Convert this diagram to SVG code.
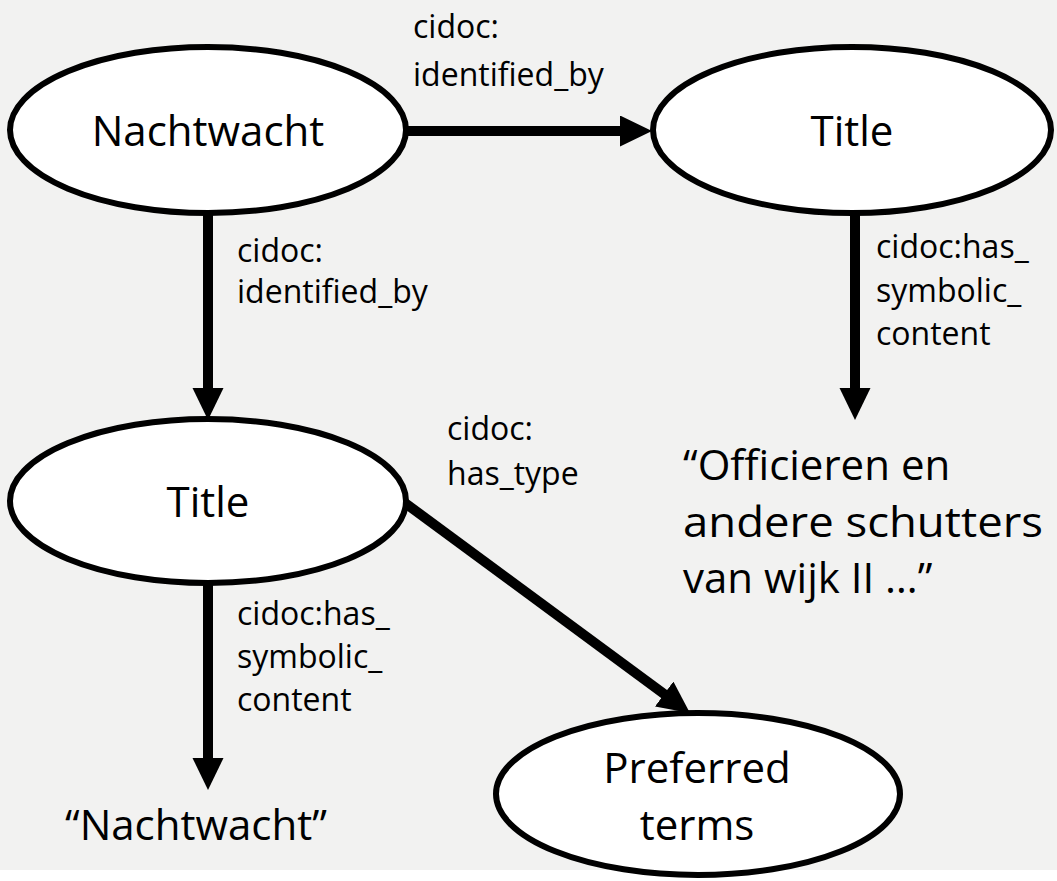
<svg xmlns="http://www.w3.org/2000/svg" width="1057" height="881" viewBox="0 0 1057 881">
<style>
.node{fill:#ffffff;stroke:#000000;stroke-width:6}
.edge{stroke:#000000;stroke-width:10;fill:none;marker-end:url(#arrow)}
.big{font-family:"Open Sans","Noto Sans","DejaVu Sans",sans-serif;font-size:42px;fill:#000000}
.lbl{font-family:"Open Sans","Noto Sans","DejaVu Sans",sans-serif;font-size:32px;fill:#000000}
.mid{text-anchor:middle}
</style>
<defs>
<marker id="arrow" markerUnits="userSpaceOnUse" markerWidth="34" markerHeight="32" refX="2" refY="15.5" orient="auto" viewBox="0 0 34 32">
<path d="M0,0 L32,15.5 L0,31 Z" fill="#000000"/>
</marker>
</defs>
<rect x="0" y="0" width="1057" height="881" fill="#ffffff"/>
<rect x="0" y="0" width="1057" height="870" fill="#f2f2f1"/>
<g id="connectors">
<line class="edge" x1="408" y1="131" x2="622" y2="131"/>
<line class="edge" x1="208" y1="213" x2="208" y2="390"/>
<line class="edge" x1="855" y1="213" x2="855" y2="390"/>
<line class="edge" x1="208" y1="583" x2="208" y2="760"/>
<line class="edge" x1="405" y1="503" x2="665.8" y2="695.2"/>
</g>
<g id="labels">
<text class="lbl" x="413" y="38">cidoc:</text>
<text class="lbl" x="413" y="86">identified_by</text>
<text class="lbl" x="237" y="262">cidoc:</text>
<text class="lbl" x="237" y="303">identified_by</text>
<text class="lbl" x="876" y="258">cidoc:has_</text>
<text class="lbl" x="876" y="302">symbolic_</text>
<text class="lbl" x="876" y="345">content</text>
<text class="lbl" x="447" y="440">cidoc:</text>
<text class="lbl" x="447" y="485">has_type</text>
<text class="lbl" x="237" y="625">cidoc:has_</text>
<text class="lbl" x="237" y="668">symbolic_</text>
<text class="lbl" x="237" y="711">content</text>
</g>
<g id="node-nachtwacht">
<ellipse class="node" cx="208" cy="130" rx="198" ry="83"/>
<text class="big mid" x="208" y="146">Nachtwacht</text>
</g>
<g id="node-title-right">
<ellipse class="node" cx="852" cy="130" rx="199" ry="83"/>
<text class="big mid" x="852" y="146">Title</text>
</g>
<g id="node-title-left">
<ellipse class="node" cx="208" cy="501" rx="198" ry="82"/>
<text class="big mid" x="208" y="517">Title</text>
</g>
<g id="node-preferred">
<ellipse class="node" cx="698" cy="794" rx="202" ry="81"/>
<text class="big mid" x="697" y="783">Preferred</text>
<text class="big mid" x="697" y="840">terms</text>
</g>
<g id="literal-officieren">
<text class="big" x="683" y="480">“Officieren en</text>
<text class="big" x="683" y="537" textLength="360" lengthAdjust="spacingAndGlyphs">andere schutters</text>
<text class="big" x="683" y="593">van wijk II …”</text>
</g>
<g id="literal-nachtwacht">
<text class="big" x="65" y="840">“Nachtwacht”</text>
</g>
</svg>
